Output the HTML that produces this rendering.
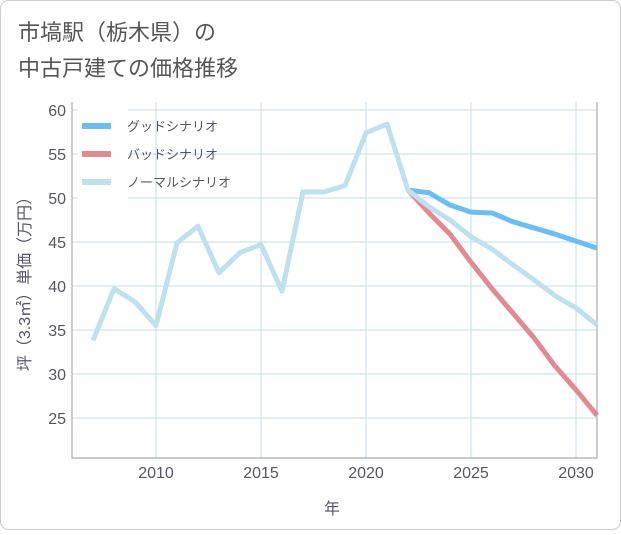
<!DOCTYPE html>
<html><head><meta charset="utf-8"><style>
body{margin:0;background:#fff;}
svg text{font-family:"Liberation Sans","Noto Sans CJK JP",sans-serif;}
</style></head><body>
<svg width="621" height="530" id="c">
<rect x="0.5" y="0.5" width="620" height="529" rx="8" fill="#fff" stroke="#ccc"/>
<text x="18" y="40" font-size="22" fill="#555">市塙駅（栃木県）の</text>
<text x="18" y="76" font-size="22" fill="#555">中古戸建ての価格推移</text>
<g id="grid"></g>
<g id="lines"></g>
<g id="legend"></g>
<text x="332" y="514" font-size="16" fill="#556" text-anchor="middle">年</text>
<text transform="translate(30,280) rotate(-90)" font-size="16" fill="#556" text-anchor="middle">坪（3.3㎡）単価（万円）</text>
</svg>
<script>
const histYears=[2007,2008,2009,2010,2011,2012,2013,2014,2015,2016,2017,2018,2019,2020,2021,2022];
const histValues=[33.8,39.7,38.2,35.5,44.9,46.8,41.5,43.8,44.7,39.4,50.7,50.7,51.4,57.4,58.4,50.9];
const foreYears=[2022,2023,2024,2025,2026,2027,2028,2029,2030,2031];
const goodValues=[50.9,50.6,49.2,48.4,48.3,47.3,46.6,45.9,45.1,44.3];
const normalValues=[50.9,49.0,47.5,45.6,44.2,42.4,40.7,38.9,37.5,35.6];
const badValues=[50.9,48.3,45.9,42.7,39.7,36.9,34.1,30.9,28.2,25.3];
const yTicks=[25,30,35,40,45,50,55,60];
const xTicks=[2010,2015,2020,2025,2030];
const NS='http://www.w3.org/2000/svg';
const L=72,R=597,T=102,B=458;
const xs=y=>156+(y-2010)*21;
const ys=v=>110+(60-v)*8.8;
function mk(t,a,p){const e=document.createElementNS(NS,t);for(const k in a)e.setAttribute(k,a[k]);p.appendChild(e);return e;}
const g=document.getElementById('grid');
for(const t of yTicks){const l=mk('line',{x1:L,x2:R,y1:ys(t),y2:ys(t),stroke:'#cfe3ef','stroke-width':1.2},g);


const tx=mk('text',{x:66,y:ys(t)+6,'font-size':16,fill:'#556','text-anchor':'end'},g);tx.textContent=t;

}
for(const t of xTicks){const l=mk('line',{x1:xs(t),x2:xs(t),y1:T,y2:B,stroke:'#cfe3ef','stroke-width':1.2},g);


const tx=mk('text',{x:xs(t),y:478,'font-size':16,fill:'#556','text-anchor':'middle'},g);tx.textContent=t;

}
const ax=mk('path',{d:`M${L} ${T}V${B}H${R}V${T}`,fill:'none',stroke:'#aaa','stroke-width':1.2},g);


const lg=document.getElementById('lines');
function line(xsA,vs,col,name){const d=vs.map((v,i)=>(i?'L':'M')+xs(xsA[i])+' '+ys(v)).join('');
const p=mk('path',{d,fill:'none',stroke:col,'stroke-width':5,'stroke-linejoin':'round'},lg);

}
line(foreYears,goodValues,'#6bbdf2','good-scenario-line');
line(foreYears,badValues,'#e08a92','bad-scenario-line');
line(foreYears,normalValues,'#bfe0ee','normal-scenario-line');
line(histYears,histValues,'#bfe0ee','historical-line');
const leg=document.getElementById('legend');
mk('rect',{x:78,y:108,width:50,height:94,fill:'#fff'},leg);
const items=[['グッドシナリオ','#6bbdf2'],['バッドシナリオ','#e08a92'],['ノーマルシナリオ','#bfe0ee']];
items.forEach((it,i)=>{const y=126+i*28;
const s=mk('line',{x1:82,x2:111,y1:y,y2:y,stroke:it[1],'stroke-width':6},leg);


const t=mk('text',{x:127,y:y+5,'font-size':13,fill:'#556'},leg);t.textContent=it[0];

});
</script>
</body></html>
